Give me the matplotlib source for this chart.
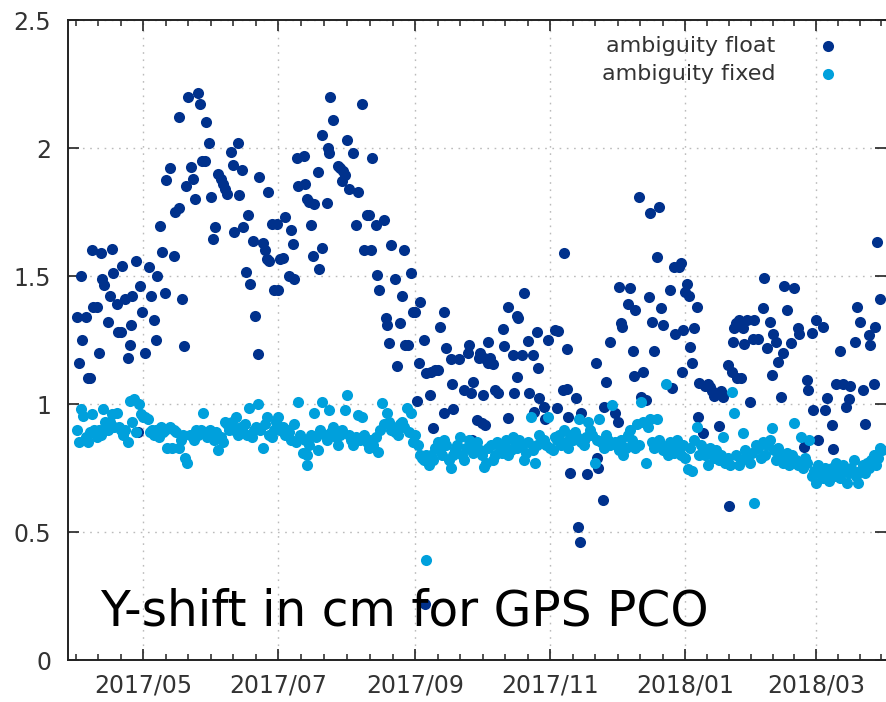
import datetime as dt
import numpy as np
import matplotlib
matplotlib.use("Agg")
import matplotlib.pyplot as plt
import matplotlib.dates as mdates
from matplotlib.ticker import FixedLocator, FuncFormatter

DARK = "#00318c"
LIGHT = "#00a0dc"

# days counted from 2017-04-01
START = dt.datetime(2017, 4, 1)

# ambiguity float: (day, shift in cm)
float_days = [
    0, 1, 2, 2.5, 4, 5, 6, 7, 7.5, 9, 10, 11, 11.5, 12.5, 14, 15, 16, 16.5, 18, 18.5,
    20, 20.5, 22, 23, 24, 24.5, 25, 27, 27.5, 28.7, 29.5, 31, 32.7, 33.6, 35, 36, 36.4, 37.7, 38.6, 40,
    40.5, 42, 44, 44.5, 46, 46.4, 47.7, 48.6, 49.5, 50.4, 51.7, 52.6, 53.5, 54.8, 55.8, 56.7, 58, 58.5, 59.9, 60.8,
    61.7, 62.6, 64, 65, 66, 67, 68, 69.5, 70.7, 71.2, 73, 73.5, 74.8, 75.3, 76.6, 77.5, 78.4, 79.8, 80.7, 82,
    82.5, 84, 85, 86, 86.6, 87, 88.4, 89, 90.6, 91, 92, 93, 94, 96, 97, 97.5, 98, 99.6, 100, 102.5,
    103, 104, 105, 106, 106.6, 107, 109, 109.5, 110.6, 111, 113, 113.5, 114, 114.6, 116, 118, 119, 120, 120.5, 121,
    122, 123, 124.6, 126, 127, 129, 130, 131, 132, 133, 133.6, 135, 135.6, 136.6, 138.6, 139.6, 140, 141, 142, 143.6,
    144.6, 146, 147, 148, 148.5, 149.5, 151, 152, 153, 153.5, 154.6, 155, 156.7, 157.2, 158, 159.5, 160, 161, 162, 163,
    164, 165.7, 166, 167, 169, 169.5, 170, 172.6, 175, 176.6, 177, 178, 178.5, 179, 181, 181.6, 182, 183, 183.5, 184,
    184.5, 185.7, 186, 186.5, 188, 189, 190.5, 192.4, 193, 194.7, 195, 197, 197.5, 198.7, 199, 199.5, 201, 202, 204, 204.5,
    206, 206.5, 208, 208.5, 209, 211, 211.5, 212.7, 216, 217, 217.5, 219.6, 220, 221.4, 221.5, 222, 223, 225.6, 226.4, 227.4,
    228, 229, 230.6, 234.6, 235, 235.5, 237.6, 238, 239, 241, 243, 244.4, 245, 246, 246.5, 249, 250, 251.2, 251.7, 252,
    254, 255, 256, 257, 258.5, 259, 260, 260.7, 262, 263, 264, 265, 268, 269, 270, 270.5, 272, 273, 273.5, 274,
    275, 275.5, 276.6, 277, 278, 279, 280, 280.7, 281, 283, 284, 285, 286, 287, 288, 290, 291, 292, 294, 294.7,
    296, 296.5, 297, 298, 298.5, 299, 300, 301, 301.5, 303, 304, 305.5, 306, 308, 310, 310.5, 312, 313, 314, 314.5,
    316, 317, 318, 319, 319.5, 321, 322.7, 324, 326, 326.5, 328.6, 330, 330.5, 332, 332.5, 334, 335, 337, 338, 339,
    341, 341.8, 343, 345, 346, 347.5, 349, 349.5, 351.6, 352.6, 354, 355, 356, 358, 358.5, 360, 360.7, 361.5, 363,
]
float_vals = [
    1.34, 1.16, 1.50, 1.25, 1.34, 1.10, 1.10, 1.60, 1.38, 1.38, 1.20, 1.59, 1.49, 1.465, 1.32, 1.42, 1.605, 1.51, 1.39, 1.28,
    1.28, 1.54, 1.41, 1.18, 1.23, 1.31, 1.42, 1.56, 0.89, 1.46, 1.36, 1.20, 1.535, 1.42, 1.33, 1.25, 1.50, 1.695, 1.595, 1.435,
    1.875, 1.92, 1.58, 1.75, 1.765, 2.12, 1.41, 1.225, 1.85, 2.20, 1.925, 1.88, 1.80, 2.215, 2.17, 1.95, 1.95, 2.10, 2.02, 1.81,
    1.645, 1.69, 1.90, 1.88, 1.86, 1.84, 1.82, 1.985, 1.935, 1.67, 2.02, 1.815, 1.915, 1.69, 1.515, 1.74, 1.47, 1.635, 1.345, 1.195,
    1.885, 1.63, 1.60, 1.565, 1.83, 1.56, 1.705, 1.445, 1.705, 1.445, 1.565, 1.57, 1.73, 1.50, 1.68, 1.625, 1.49, 1.96, 1.85, 1.97,
    1.86, 1.80, 1.79, 1.70, 1.58, 1.78, 1.906, 1.527, 2.05, 1.61, 1.785, 2.00, 1.98, 2.20, 2.11, 1.93, 1.92, 1.87, 1.91, 1.895,
    2.03, 1.84, 1.98, 1.70, 1.83, 2.17, 1.60, 1.74, 1.74, 1.60, 1.96, 1.70, 1.505, 1.445, 1.72, 1.335, 1.31, 1.24, 1.62, 1.49,
    1.15, 1.315, 1.42, 1.60, 1.23, 1.23, 1.51, 1.36, 1.36, 1.01, 1.16, 1.40, 1.25, 0.22, 1.12, 1.035, 1.125, 0.905, 1.133, 1.133,
    1.30, 1.36, 0.965, 1.22, 1.175, 1.08, 0.98, 1.175, 1.055, 1.20, 1.23, 1.043, 0.86, 1.085, 0.937, 1.18, 1.20, 0.926, 1.035, 1.18,
    0.918, 1.242, 1.16, 1.18, 1.155, 1.055, 1.043, 1.293, 1.227, 0.945, 1.38, 1.19, 1.043, 1.105, 1.344, 1.336, 1.19, 1.434, 1.246, 1.043,
    1.19, 0.97, 1.28, 1.14, 1.023, 0.99, 0.941, 1.25, 1.29, 0.984, 1.285, 1.055, 1.59, 1.06, 1.215, 0.949, 0.73, 1.023, 0.52, 0.46,
    0.965, 0.86, 0.727, 1.16, 0.79, 0.75, 0.625, 0.988, 1.086, 1.242, 0.965, 0.93, 1.457, 1.316, 1.30, 1.39, 1.453, 1.207, 1.11, 1.367,
    1.809, 1.027, 1.125, 1.016, 1.418, 1.746, 1.32, 1.207, 1.574, 1.77, 1.375, 1.31, 1.445, 1.063, 1.535, 1.273, 1.535, 1.55, 1.125, 1.29,
    1.437, 1.469, 1.422, 1.223, 1.16, 1.297, 1.38, 0.949, 1.082, 0.887, 1.07, 1.08, 1.065, 1.05, 1.03, 0.914, 1.05, 1.027, 1.152, 0.60,
    1.125, 1.242, 1.297, 1.316, 1.10, 1.33, 1.10, 1.297, 1.234, 1.33, 1.008, 1.254, 1.33, 1.254, 1.375, 1.492, 1.219, 1.32, 1.113, 1.273,
    1.242, 1.164, 1.027, 1.20, 1.46, 1.367, 1.238, 1.453, 1.297, 1.273, 0.832, 1.094, 1.055, 1.277, 0.977, 1.328, 0.86, 1.30, 0.977, 1.023,
    0.918, 0.824, 1.08, 1.207, 1.08, 0.988, 1.02, 1.07, 1.242, 1.38, 1.32, 1.055, 0.922, 1.27, 1.23, 1.08, 1.30, 1.633, 1.41,
]

# ambiguity fixed: one value per day from day 0
fixed_vals = [
    0.90, 0.85, 0.98, 0.955, 0.87, 0.85, 0.89, 0.96, 0.90, 0.87,
    0.90, 0.88, 0.98, 0.93, 0.90, 0.93, 0.96, 0.91, 0.965, 0.91,
    0.90, 0.88, 0.90, 0.85, 1.01, 0.93, 1.02, 0.89, 1.00, 0.96,
    0.95, 0.95, 0.94, 0.89, 0.90, 0.88, 0.90, 0.87, 0.91, 0.89,
    0.90, 0.83, 0.91, 0.83, 0.90, 0.89, 0.83, 0.86, 0.88, 0.79,
    0.77, 0.88, 0.88, 0.86, 0.90, 0.88, 0.90, 0.965, 0.89, 0.87,
    0.90, 0.88, 0.86, 0.89, 0.82, 0.87, 0.85, 0.93, 0.92, 0.90,
    0.93, 0.90, 0.95, 0.88, 0.91, 0.89, 0.92, 0.88, 0.985, 0.87,
    0.90, 0.91, 1.00, 0.90, 0.83, 0.92, 0.95, 0.88, 0.87, 0.90,
    0.93, 0.95, 0.90, 0.91, 0.88, 0.90, 0.89, 0.86, 0.92, 0.85,
    1.008, 0.88, 0.81, 0.86, 0.80, 0.84, 0.88, 0.965, 0.87, 0.82,
    0.90, 1.008, 0.88, 0.86, 0.977, 0.89, 0.91, 0.87, 0.84, 0.88,
    0.90, 0.977, 1.035, 0.88, 0.86, 0.84, 0.87, 0.957, 0.86, 0.95,
    0.88, 0.85, 0.83, 0.86, 0.84, 0.87, 0.813, 0.90, 1.004, 0.92,
    0.965, 0.93, 0.90, 0.91, 0.89, 0.88, 0.92, 0.93, 0.91, 0.984,
    0.89, 0.965, 0.85, 0.88, 0.84, 0.80, 0.79, 0.78, 0.80, 0.76,
    0.80, 0.78, 0.83, 0.85, 0.82, 0.80, 0.86, 0.84, 0.78, 0.75,
    0.80, 0.82, 0.84, 0.87, 0.80, 0.78, 0.83, 0.86, 0.85, 0.81,
    0.83, 0.85, 0.82, 0.80, 0.754, 0.77, 0.83, 0.84, 0.78, 0.80,
    0.85, 0.83, 0.81, 0.84, 0.86, 0.80, 0.82, 0.87, 0.84, 0.83,
    0.86, 0.84, 0.78, 0.81, 0.85, 0.95, 0.82, 0.77, 0.84, 0.88,
    0.85, 0.86, 0.84, 0.95, 0.83, 0.82, 0.87, 0.86, 0.88, 0.84,
    0.90, 0.85, 0.83, 0.88, 0.86, 0.89, 0.87, 0.94, 0.85, 0.84,
    0.87, 0.93, 0.90, 0.88, 0.77, 0.86, 0.94, 0.85, 0.83, 0.88,
    0.86, 0.84, 0.996, 0.85, 0.84, 0.82, 0.86, 0.80, 0.83, 0.88,
    0.90, 0.86, 0.83, 0.92, 0.84, 1.008, 0.93, 0.77, 0.91, 0.94,
    0.85, 0.83, 0.94, 0.86, 0.84, 0.82, 1.078, 0.80, 0.85, 0.83,
    0.81, 0.86, 0.82, 0.80, 0.84, 0.79, 0.745, 0.83, 0.74, 0.86,
    0.91, 0.80, 0.84, 0.82, 0.80, 0.76, 0.83, 0.81, 0.79, 0.82,
    0.78, 0.80, 0.871, 0.77, 0.79, 0.76, 1.047, 0.965, 0.80, 0.76,
    0.78, 0.887, 0.82, 0.80, 0.77, 0.81, 0.613, 0.84, 0.83, 0.79,
    0.85, 0.80, 0.84, 0.86, 0.906, 0.82, 0.78, 0.83, 0.80, 0.77,
    0.79, 0.81, 0.76, 0.80, 0.926, 0.78, 0.76, 0.87, 0.75, 0.79,
    0.77, 0.86, 0.72, 0.74, 0.69, 0.76, 0.73, 0.71, 0.75, 0.73,
    0.70, 0.75, 0.72, 0.77, 0.74, 0.71, 0.76, 0.74, 0.69, 0.73,
    0.75, 0.78, 0.72, 0.69, 0.74, 0.76, 0.73, 0.77, 0.75, 0.78,
    0.80, 0.76, 0.79, 0.828, 0.82,
]
fixed_extra_days = [104, 157.7]
fixed_extra_vals = [0.76, 0.39]

y_ticks = [0, 0.5, 1, 1.5, 2, 2.5]
major_months = [dt.datetime(2017, 5, 1), dt.datetime(2017, 7, 1), dt.datetime(2017, 9, 1),
                dt.datetime(2017, 11, 1), dt.datetime(2018, 1, 1), dt.datetime(2018, 3, 1)]

base = mdates.date2num(START)
fx = base + np.array(float_days)
fixed_days = list(range(len(fixed_vals))) + fixed_extra_days
gx = base + np.array(fixed_days, dtype=float)
gy = fixed_vals + fixed_extra_vals

fig = plt.figure(figsize=(8.86, 7.02), dpi=100)
ax = fig.add_axes([68 / 886, 42 / 702, 818 / 886, 640 / 702])

ax.scatter(fx, float_vals, s=64, color=DARK, linewidths=0, label="ambiguity float", zorder=3)
ax.scatter(gx, gy, s=64, color=LIGHT, linewidths=0, label="ambiguity fixed", zorder=3)

ax.set_xlim(base - 3.94, base + 365.6)
ax.set_ylim(0, 2.5)

# ticks: majors every 2 months, 6 minor steps in between
majors = mdates.date2num(major_months)
minors = []
for a, b in zip(majors[:-1], majors[1:]):
    step = (b - a) / 6
    minors += [a + k * step for k in range(1, 6)]
first = (majors[1] - majors[0]) / 6
minors += [majors[0] - k * first for k in range(1, 4)]
last = (majors[-1] - majors[-2]) / 6
minors += [majors[-1] + k * last for k in range(1, 4)]
ax.xaxis.set_major_locator(FixedLocator(majors))
ax.xaxis.set_minor_locator(FixedLocator(minors))
ax.xaxis.set_major_formatter(mdates.DateFormatter("%Y/%m"))
ax.yaxis.set_major_locator(FixedLocator(y_ticks))
ax.yaxis.set_major_formatter(FuncFormatter(lambda v, p: f"{v:g}"))

ax.tick_params(axis="both", which="both", direction="in", colors="#222222",
               labelcolor="#333333", labelsize=17, top=True, right=True)
ax.tick_params(axis="both", which="major", length=8, width=1.2)
ax.tick_params(axis="both", which="minor", length=4.5, width=1.1)
ax.tick_params(axis="x", pad=10)
ax.tick_params(axis="y", pad=12)

for side in ["left", "bottom", "top"]:
    ax.spines[side].set_linewidth(1.4)
    ax.spines[side].set_color("#222222")
ax.spines["right"].set_visible(False)

ax.grid(True, which="major", color="#bbbbbb", linestyle=(0, (1.2, 4)), linewidth=1)
ax.set_axisbelow(True)

leg = ax.legend(loc="upper right", bbox_to_anchor=((839 - 68) / 818, (660 - 36) / 640),
                frameon=False, markerfirst=False, scatterpoints=1, fontsize=16,
                handlelength=1.0, handletextpad=1.85, labelspacing=0.36,
                borderpad=0, borderaxespad=0)
for t in leg.get_texts():
    t.set_color("#333333")

fig.text(100 / 886, (702 - 625) / 702, "Y-shift in cm for GPS PCO",
         fontsize=35, color="black", va="baseline", ha="left")

fig.savefig("out.png", dpi=100)
